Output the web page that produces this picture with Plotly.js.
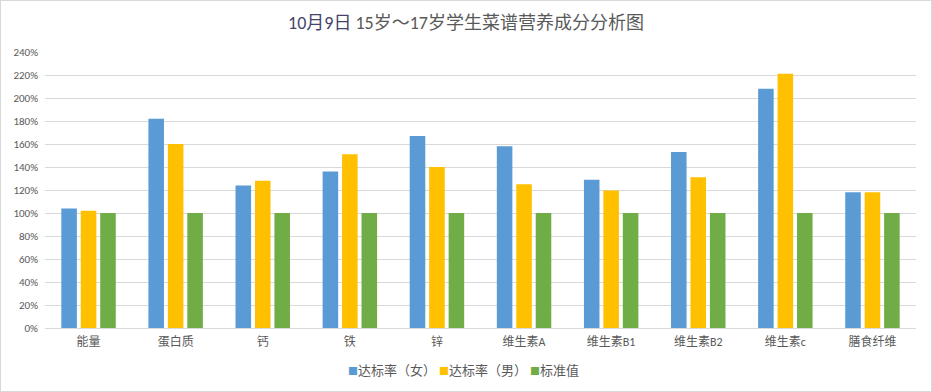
<!DOCTYPE html>
<html><head><meta charset="utf-8">
<script src="https://cdn.plot.ly/plotly-3.0.1.min.js"></script>
<style>html,body{margin:0;padding:0;background:#fff;}#chart{width:930px;height:390px;border:1px solid #d9d9d9;}</style>
</head><body><div id="chart"></div>
<script>
const categories = ["能量","蛋白质","钙","铁","锌","维生素A","维生素B1","维生素B2","维生素c","膳食纤维"];
const femaleRate = [1.04,1.82,1.24,1.36,1.67,1.58,1.29,1.53,2.08,1.18];
const maleRate   = [1.02,1.60,1.28,1.51,1.40,1.25,1.195,1.31,2.21,1.18];
const standard   = [1,1,1,1,1,1,1,1,1,1];
const seriesNames = ["达标率（女）","达标率（男）","标准值"];
const tickVals = [0,0.2,0.4,0.6,0.8,1.0,1.2,1.4,1.6,1.8,2.0,2.2,2.4];

const font = "Calibri, 'Noto Sans CJK SC', sans-serif";
const colors = ["#5b9bd5","#ffc000","#70ad47"];
const data = [femaleRate, maleRate, standard].map((v,i)=>({
  type:"bar", x:categories, y:v, name:seriesNames[i],
  marker:{color:colors[i]}, hoverinfo:"none"
}));
const legendText = seriesNames.map((n,i)=>`<span style="color:${colors[i]};font-size:10px">■</span>${n}`).join(" ");
const layout = {
  width:930, height:390,
  margin:{l:44,r:15,t:51,b:63},
  paper_bgcolor:"#fff", plot_bgcolor:"#fff",
  font:{family:font,color:"#595959",size:12},
  title:{text:"<span style='color:#44446a'>10月9日</span> 15岁～17岁学生菜谱营养成分分析图",
    font:{family:font,size:18,color:"#595959"}, x:0.5, xanchor:"center", y:0.945, yanchor:"middle", yref:"container"},
  barmode:"group", bargap:0.33, bargroupgap:0.2,
  xaxis:{tickfont:{size:12,color:"#595959",family:font}, showline:true, linecolor:"#d9d9d9", linewidth:1, ticks:"", ticklabelstandoff:3, fixedrange:true},
  yaxis:{range:[0,2.4], tickvals:tickVals, tickformat:".0%", tickfont:{size:11,color:"#595959",family:font},
    gridcolor:"#d9d9d9", gridwidth:1, zeroline:false, showline:false, ticks:"", ticklabelstandoff:6},
  showlegend:false,
  annotations:[{text:legendText, xref:"paper", yref:"paper", x:0.48, y:-0.155, xanchor:"center", yanchor:"middle",
    showarrow:false, font:{size:13,color:"#595959",family:font}}]
};
Plotly.newPlot("chart", data, layout, {displayModeBar:false, staticPlot:true});
</script></body></html>
